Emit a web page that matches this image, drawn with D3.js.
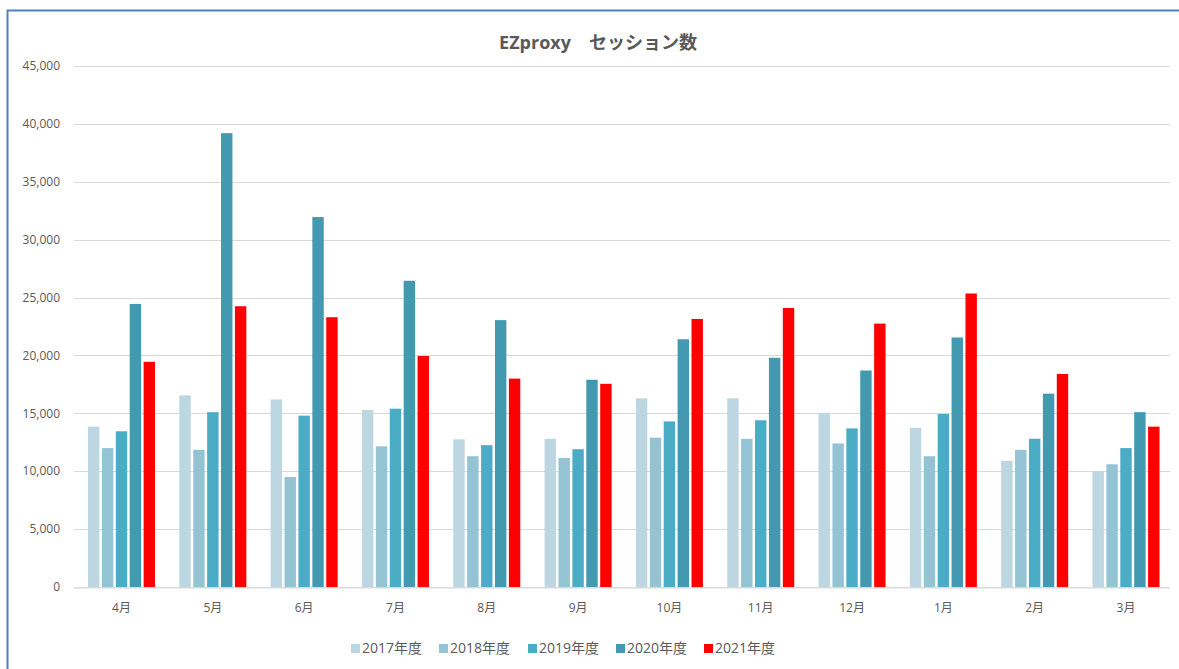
<!DOCTYPE html>
<html><head><meta charset="utf-8">
<script src="https://cdn.jsdelivr.net/npm/d3@7"></script>
<style>
body{margin:0;background:#fff;}
svg text{font-family:"Open Sans","Noto Sans CJK JP",sans-serif;}
</style></head>
<body>
<svg id="c" width="1179" height="669"></svg>
<script>
const months = ["4月","5月","6月","7月","8月","9月","10月","11月","12月","1月","2月","3月"];
const seriesNames = ["2017年度","2018年度","2019年度","2020年度","2021年度"];
const colors = ["#bdd7e2","#94c3d4","#4bacc6","#4299b0","#ff0000"];
const v2017 = [13850,16550,16200,15300,12750,12800,16300,16300,15050,13750,10900,10000];
const v2018 = [12000,11850,9500,12150,11300,11150,12900,12800,12400,11300,11850,10600];
const v2019 = [13450,15100,14800,15400,12250,11900,14300,14400,13700,14950,12800,12000];
const v2020 = [24450,39200,31950,26450,23050,17900,21400,19800,18700,21550,16700,15100];
const v2021 = [19450,24250,23300,19950,18000,17550,23150,24100,22750,25350,18400,13850];
const seriesValues = [v2017,v2018,v2019,v2020,v2021];
const yTicks = [0,5000,10000,15000,20000,25000,30000,35000,40000,45000];

(function(){
const svg = d3.select("#c");
svg.append("path").attr("d","M7.5,669 V10.5 H1179").attr("fill","none").attr("stroke","#4f81bd").attr("stroke-width",2);

const pL = 74, pR = 1170, pT = 66, pB = 587;
const x = d3.scaleBand().domain(months).range([75.85,1171.65]).paddingInner(0.266).paddingOuter(0.133);
const xs = d3.scaleBand().domain(seriesNames).range([0,x.bandwidth()]).paddingInner(0.18);
const y = d3.scaleLinear().domain([0,45000]).range([pB,pT]);

svg.append("g").selectAll("line").data(yTicks.slice(1)).join("line")
  .attr("x1",pL).attr("x2",pR).attr("y1",d=>Math.round(y(d))+0.5).attr("y2",d=>Math.round(y(d))+0.5)
  .attr("stroke","#d9d9d9").attr("stroke-width",1);

const fmt = d3.format(",");
svg.append("g").selectAll("text").data(yTicks).join("text")
  .attr("x",60).attr("y",d=>y(d)).attr("dy","0.35em").attr("text-anchor","end")
  .attr("font-size",12).attr("fill","#595959").text(d=>fmt(d));

seriesNames.forEach((s,i)=>{
  svg.append("g").selectAll("rect").data(seriesValues[i]).join("rect")
    .attr("x",(d,j)=>x(months[j])+xs(s)).attr("width",xs.bandwidth())
    .attr("y",d=>y(d)).attr("height",d=>pB-y(d))
    .attr("fill",colors[i]);
});

svg.append("line").attr("x1",pL).attr("x2",pR).attr("y1",pB+0.75).attr("y2",pB+0.75)
  .attr("stroke","#d9d9d9").attr("stroke-width",1.5);

svg.append("g").selectAll("text").data(months).join("text")
  .attr("x",d=>x(d)+x.bandwidth()/2).attr("y",612).attr("text-anchor","middle")
  .attr("font-size",12).attr("fill","#595959").text(d=>d);

svg.append("text").attr("x",598).attr("y",49).attr("text-anchor","middle")
  .attr("font-size",18).attr("font-weight","bold").attr("fill","#595959")
  .text("EZproxy\u3000セッション数");

const legendX = [351,439,528,616,704];
const lg = svg.append("g");
seriesNames.forEach((s,i)=>{
  lg.append("rect").attr("x",legendX[i]).attr("y",644).attr("width",9).attr("height",9).attr("fill",colors[i]);
  lg.append("text").attr("x",legendX[i]+11).attr("y",653).attr("font-size",14).attr("fill","#595959").text(s);
});
})();
</script>
</body></html>
